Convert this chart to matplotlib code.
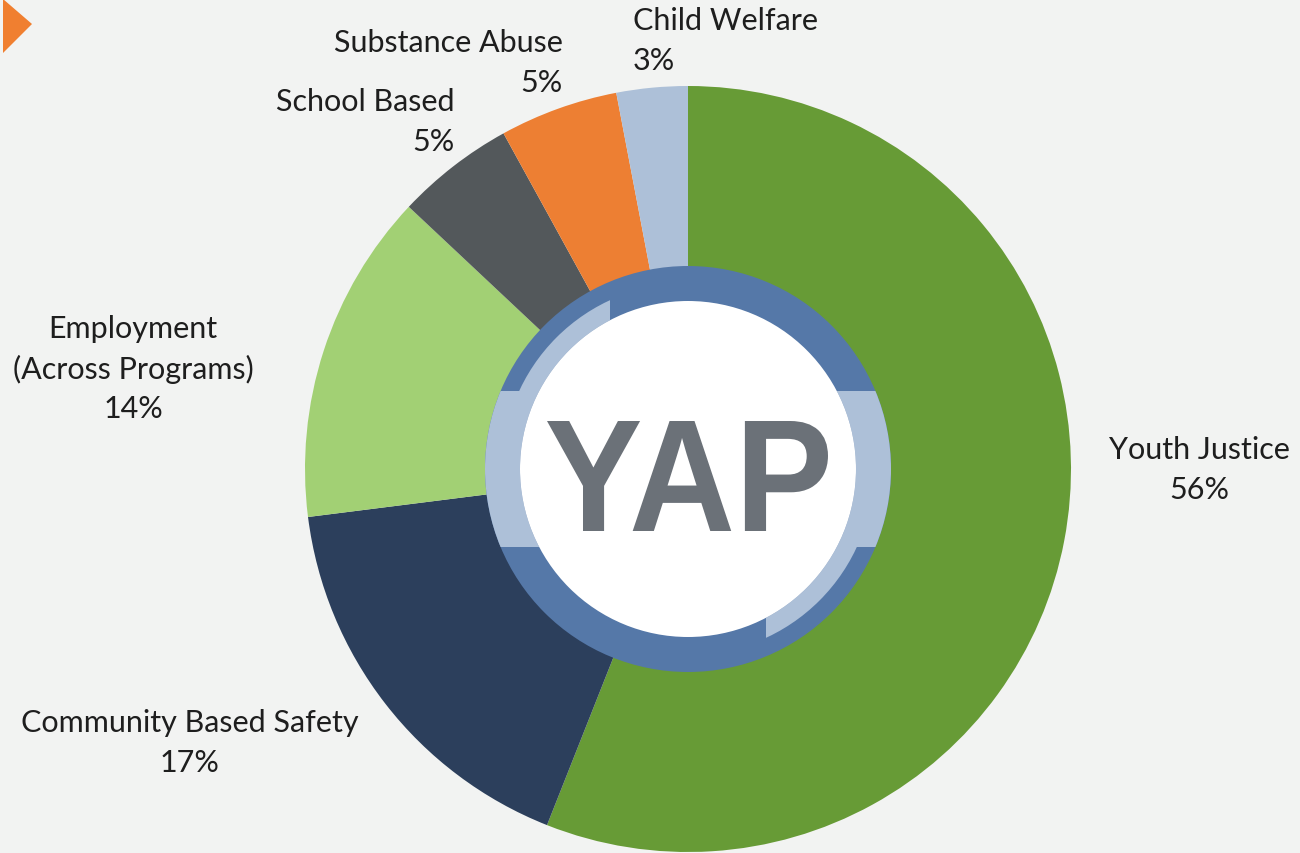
import matplotlib
matplotlib.use("Agg")
import matplotlib.pyplot as plt
from matplotlib.patches import Circle, Wedge, Rectangle, Polygon, PathPatch
from matplotlib.textpath import TextPath
from matplotlib.font_manager import FontProperties
from matplotlib.transforms import Affine2D

# data
programs = ["Youth Justice", "Community Based Safety", "Employment\n(Across Programs)",
            "School Based", "Substance Abuse", "Child Welfare"]
shares = [56, 17, 14, 5, 5, 3]
colors = ["#679b36", "#2c3f5c", "#a2d074", "#53585b", "#ed7f33", "#adc0d8"]

# label anchors in pixel space (x, y from top) and alignment
label_pos = [(1199, 470, "center"), (190, 743, "center"), (133, 369, "center"),
             (455, 122, "right"), (563, 63, "right"), (633, 41, "left")]

W, H = 1300, 854
BG = "#f2f3f2"

fig = plt.figure(figsize=(W / 100, H / 100), dpi=100, facecolor=BG)
ax = fig.add_axes([0, 0, 1, 1])
ax.set_facecolor(BG)

cx, cy, R = 688, H - 470, 383
ax.pie(shares, colors=colors, startangle=90, counterclock=False,
       center=(cx, cy), radius=R, wedgeprops=dict(linewidth=0))

# logo in the middle
dark_blue = "#5578a8"
light_blue = "#adc0d8"
r_out, r_mid, r_in = 203, 186, 168
cut = 78

ax.add_patch(Circle((cx, cy), r_out, color=dark_blue, lw=0, zorder=3))
side = Wedge((cx, cy), r_out, 0, 360, width=r_out - r_in, color=light_blue, lw=0, zorder=4)
ax.add_patch(side)
side.set_clip_path(Rectangle((cx - 300, cy - cut), 600, 2 * cut, transform=ax.transData))
# thin inner arcs top-left and bottom-right
tl = Wedge((cx, cy), r_mid, 0, 360, width=r_mid - r_in, color=light_blue, lw=0, zorder=4)
ax.add_patch(tl)
tl.set_clip_path(Rectangle((cx - 300, cy + cut), 300 - cut, 300, transform=ax.transData))
br = Wedge((cx, cy), r_mid, 0, 360, width=r_mid - r_in, color=light_blue, lw=0, zorder=4)
ax.add_patch(br)
br.set_clip_path(Rectangle((cx + cut, cy - 300), 300, 300 - cut, transform=ax.transData))
ax.add_patch(Circle((cx, cy), r_in, color="white", lw=0, zorder=5))

# YAP letters fitted to box
tp = TextPath((0, 0), "YAP", size=100, prop=FontProperties(family="Liberation Sans", weight="bold"))
bb = tp.get_extents()
x0, x1, ytop, ybot = 547, 828, 422, 532
sx = (x1 - x0) / bb.width
sy = (ybot - ytop) / bb.height
tr = Affine2D().translate(-bb.x0, -bb.y0).scale(sx, sy).translate(x0, H - ybot)
ax.add_patch(PathPatch(tr.transform_path(tp), color="#6b7178", lw=0, zorder=6))

# labels
for name, val, (lx, ly, ha) in zip(programs, shares, label_pos):
    ax.text(lx, H - ly, f"{name}\n{val}%", ha=ha, va="center", fontsize=22,
            family="Lato", color="#1e1e1e", linespacing=1.5, zorder=7)

# orange marker top-left
ax.add_patch(Polygon([(3, H), (3, H - 54), (32, H - 25)], closed=True, color="#f07f30", lw=0))

ax.set_xlim(0, W)
ax.set_ylim(0, H)
ax.set_aspect("auto")
ax.axis("off")

fig.savefig("out.png", dpi=100, facecolor=BG)
